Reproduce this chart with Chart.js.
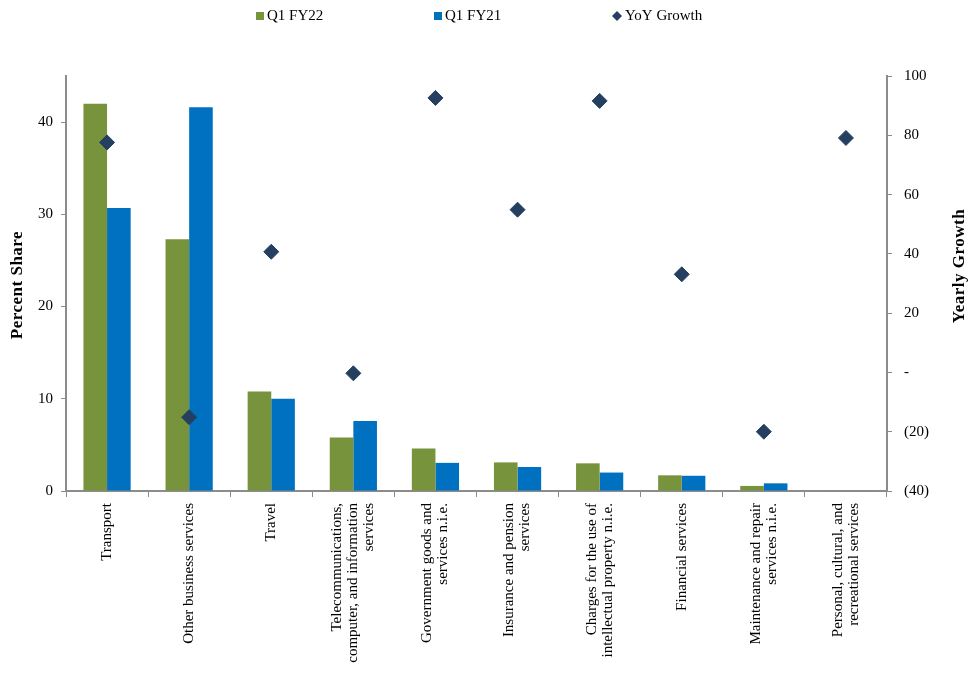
<!DOCTYPE html>
<html>
<head>
<meta charset="utf-8">
<script src="https://cdn.jsdelivr.net/npm/chart.js@4.4.1/dist/chart.umd.min.js"></script>
<style>
html,body{margin:0;padding:0;background:#fff;}
#wrap{position:relative;width:970px;height:674px;}
</style>
</head>
<body>
<div id="wrap"><canvas id="c" width="970" height="674"></canvas></div>
<script>
const categories = [
  "Transport",
  "Other business services",
  "Travel",
  ["Telecommunications,", "computer, and information", "services"],
  ["Government goods and", "services n.i.e."],
  ["Insurance and pension", "services"],
  ["Charges for the use of", "intellectual property n.i.e."],
  "Financial services",
  ["Maintenance and repair", "services n.i.e."],
  ["Personal, cultural, and", "recreational services"]
];
const q1fy22 = [42.0, 27.3, 10.8, 5.8, 4.6, 3.1, 3.0, 1.7, 0.55, 0.05];
const q1fy21 = [30.7, 41.6, 10.0, 7.6, 3.05, 2.6, 2.0, 1.65, 0.83, 0.05];
const yoyGrowth = [77.6, -15.1, 40.7, -0.3, 92.6, 54.9, 91.6, 33.1, -20.0, 79.1];
const leftTicks = [0, 10, 20, 30, 40];
const rightTicks = [-40, -20, 0, 20, 40, 60, 80, 100];

const GREEN = '#77933C', BLUE = '#0070C0', NAVY = '#243F60', AXIS = '#8C8C8C';
const FONT = "'Liberation Serif', 'Times New Roman', serif";

const decorPlugin = {
  id: 'decor',
  afterDraw(chart) {
    const ctx = chart.ctx;
    ctx.save();
    // legend
    ctx.font = '15px ' + FONT;
    ctx.textBaseline = 'middle';
    const y = 16;
    ctx.fillStyle = GREEN; ctx.fillRect(256, y - 4, 8, 8);
    ctx.fillStyle = BLUE; ctx.fillRect(434, y - 4, 8, 8);
    ctx.fillStyle = NAVY;
    ctx.beginPath();
    ctx.moveTo(617, y - 5); ctx.lineTo(622, y); ctx.lineTo(617, y + 5); ctx.lineTo(612, y); ctx.closePath(); ctx.fill();
    ctx.fillStyle = '#000';
    ctx.textAlign = 'left';
    ctx.fillText('Q1 FY22', 267, y);
    ctx.fillText('Q1 FY21', 445, y);
    ctx.fillText('YoY Growth', 625, y);

    // x category labels, each line centred on the category
    const xs = chart.scales.x;
    ctx.font = '15px ' + FONT;
    ctx.textAlign = 'right';
    ctx.textBaseline = 'middle';
    const lh = 16;
    categories.forEach((lab, i) => {
      const lines = Array.isArray(lab) ? lab : [lab];
      const px = xs.getPixelForValue(i);
      lines.forEach((ln, j) => {
        const lx = px + (j - (lines.length - 1) / 2) * lh;
        ctx.save();
        ctx.translate(lx, xs.top + 12);
        ctx.rotate(-Math.PI / 2);
        ctx.fillText(ln, 0, 0);
        ctx.restore();
      });
    });

    // axis titles
    ctx.font = 'bold 17px ' + FONT;
    ctx.textAlign = 'center';
    ctx.textBaseline = 'middle';
    try { ctx.letterSpacing = '0.5px'; } catch (e) {}
    ctx.save();
    ctx.translate(18, 285);
    ctx.rotate(-Math.PI / 2);
    ctx.fillText('Percent Share', 0, 0);
    ctx.restore();
    ctx.save();
    ctx.translate(960, 266);
    ctx.rotate(-Math.PI / 2);
    ctx.fillText('Yearly Growth', 0, 0);
    ctx.restore();
    ctx.restore();
  }
};

new Chart(document.getElementById('c'), {
  data: {
    labels: categories,
    datasets: [
      { type: 'scatter', label: 'YoY Growth', data: yoyGrowth, yAxisID: 'y1', xAxisID: 'x',
        backgroundColor: NAVY, borderColor: NAVY, pointStyle: 'rectRot', pointRadius: 7.5, pointHoverRadius: 7.5, showLine: false, order: 0 },
      { type: 'bar', label: 'Q1 FY22', data: q1fy22, backgroundColor: GREEN, yAxisID: 'y', order: 1,
        categoryPercentage: 0.575, barPercentage: 1.0 },
      { type: 'bar', label: 'Q1 FY21', data: q1fy21, backgroundColor: BLUE, yAxisID: 'y', order: 1,
        categoryPercentage: 0.575, barPercentage: 1.0 }
    ]
  },
  options: {
    responsive: false,
    animation: false,
    layout: { padding: { top: 76, left: 0, right: 0, bottom: 0 } },
    plugins: { legend: { display: false }, tooltip: { enabled: false } },
    scales: {
      x: {
        type: 'category',
        offset: true,
        grid: { display: true, drawOnChartArea: false, drawTicks: true, tickLength: 6, color: AXIS, offset: true },
        border: { color: AXIS, width: 2 },
        ticks: { display: false, autoSkip: false },
        afterFit(scale) { scale.height = 183; }
      },
      y: {
        position: 'left',
        min: 0, max: 45,
        grid: { display: true, drawOnChartArea: false, tickLength: 5, color: AXIS },
        border: { color: AXIS, width: 2 },
        ticks: { stepSize: 10, color: '#000', font: { family: FONT, size: 15 }, padding: 8 },
        afterBuildTicks(scale) { scale.ticks = leftTicks.map(v => ({ value: v })); },
        afterFit(scale) { scale.width = 66; }
      },
      y1: {
        position: 'right',
        min: -40, max: 100,
        grid: { display: true, drawOnChartArea: false, tickLength: 5, color: AXIS },
        border: { color: AXIS, width: 2 },
        ticks: { stepSize: 20, color: '#000', font: { family: FONT, size: 15 }, padding: 12,
          callback(v) { return v === 0 ? '-' : (v < 0 ? '(' + Math.abs(v) + ')' : String(v)); } },
        afterBuildTicks(scale) { scale.ticks = rightTicks.map(v => ({ value: v })); },
        afterFit(scale) { scale.width = 83; }
      }
    }
  },
  plugins: [decorPlugin]
});
</script>
</body>
</html>
